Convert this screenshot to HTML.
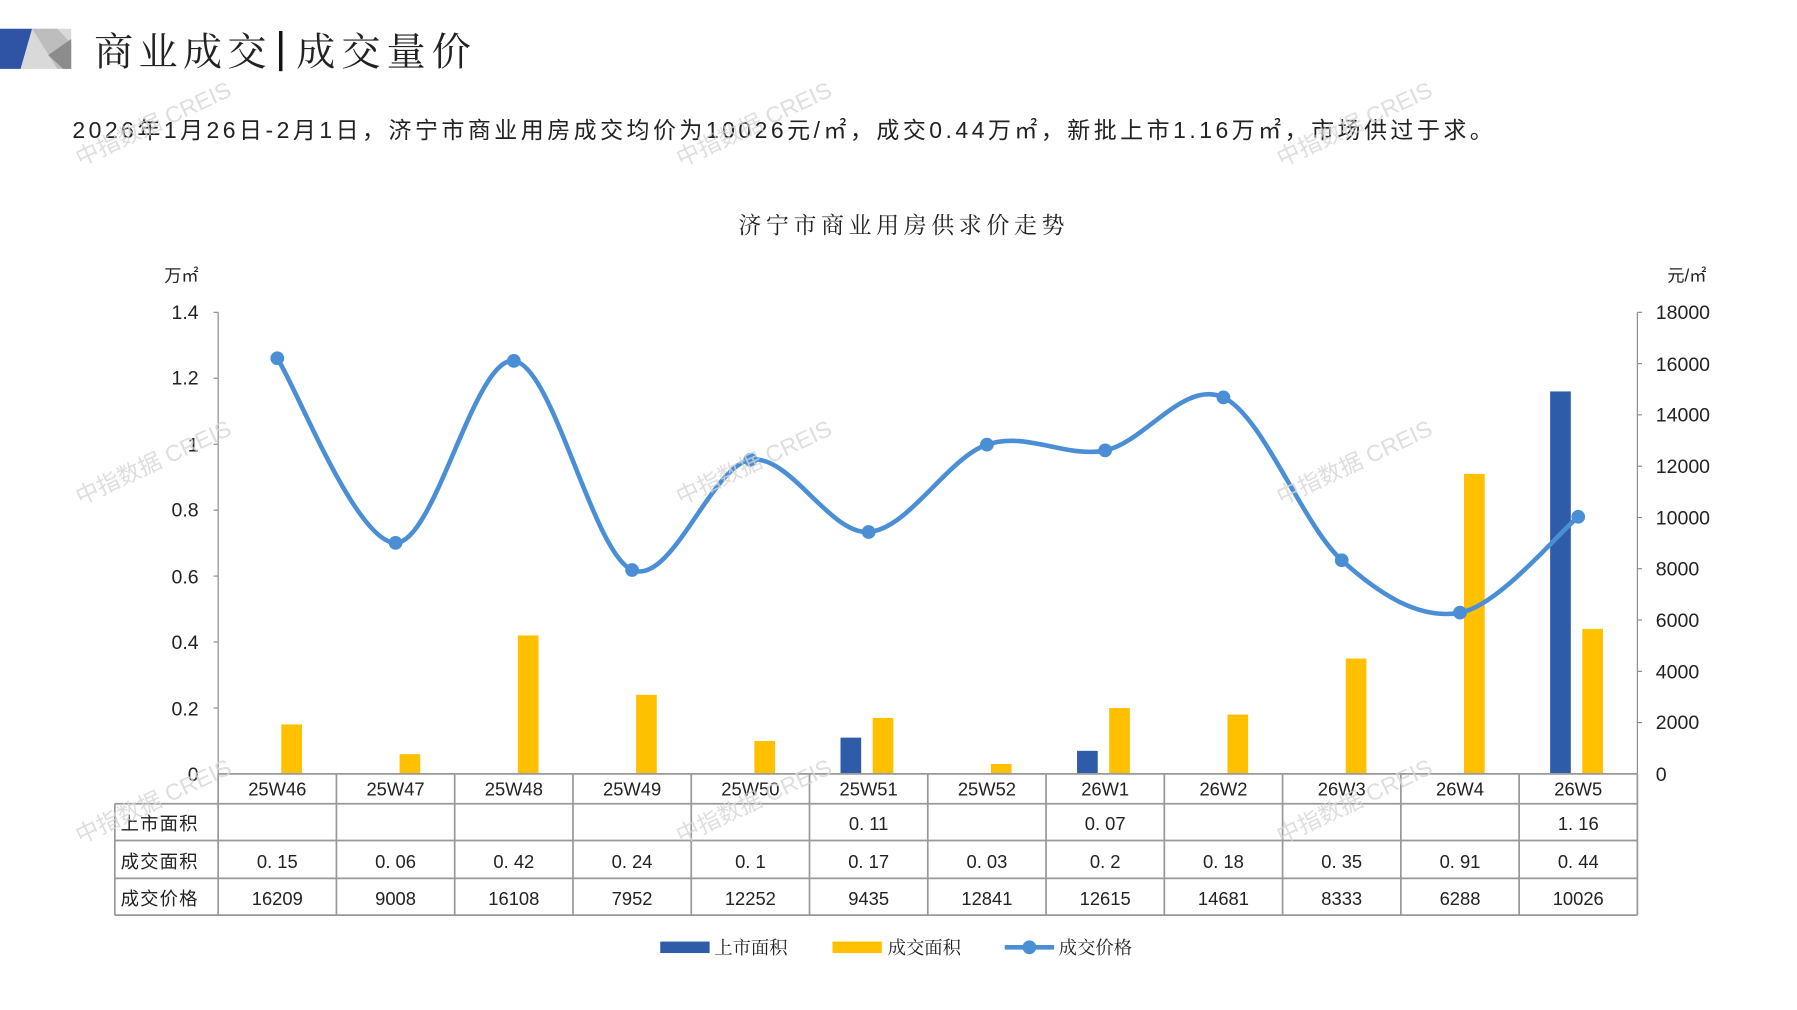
<!DOCTYPE html>
<html><head><meta charset="utf-8">
<style>
html,body{margin:0;padding:0;background:#fff;}
svg{display:block;}
text{font-family:"Liberation Sans","Noto Sans CJK SC",sans-serif;fill:#222;}
.cj{font-family:"Noto Serif CJK SC","Liberation Serif",serif;}
</style></head>
<body>
<svg id="s" width="1797" height="1010" viewBox="0 0 1565 879.6" xmlns="http://www.w3.org/2000/svg">
<polygon points="0,25 28,25 18,60 0,60" fill="#2f54a6"/>
<polygon points="28,25 62,25 62,60 18,60" fill="#d9d9d9"/>
<polygon points="28,25 50,25 62,38 62,60 50,60" fill="#bdbdbd"/>
<polygon points="42,48 62,34 62,60 55,60" fill="#8c8c8c"/>
<text x="82" y="57" font-size="34" class="cj" fill="#111" textLength="150" lengthAdjust="spacing">商业成交</text>
<rect x="243" y="27" width="3" height="35" fill="#111"/>
<text x="258" y="57" font-size="34" class="cj" fill="#111" textLength="152" lengthAdjust="spacing">成交量价</text>
<text x="63" y="120" font-size="20" fill="#333" textLength="1237" lengthAdjust="spacing">2026年1月26日-2月1日，济宁市商业用房成交均价为10026元/㎡，成交0.44万㎡，新批上市1.16万㎡，市场供过于求。</text>
<text x="643" y="203" font-size="20" fill="#333" class="cj" textLength="284" lengthAdjust="spacing">济宁市商业用房供求价走势</text>
<text x="143" y="245" font-size="15" fill="#333">万㎡</text>
<text x="1452" y="245" font-size="15" fill="#333">元/㎡</text>

<g stroke="#888" stroke-width="1">
<line x1="190" y1="272" x2="190" y2="674"/>
<line x1="1426" y1="272" x2="1426" y2="674"/>
<line x1="186" y1="272" x2="190" y2="272"/><line x1="186" y1="329.4" x2="190" y2="329.4"/><line x1="186" y1="386.9" x2="190" y2="386.9"/><line x1="186" y1="444.3" x2="190" y2="444.3"/><line x1="186" y1="501.7" x2="190" y2="501.7"/><line x1="186" y1="559.1" x2="190" y2="559.1"/><line x1="186" y1="616.6" x2="190" y2="616.6"/>
<line x1="1426" y1="272" x2="1430" y2="272"/><line x1="1426" y1="316.7" x2="1430" y2="316.7"/><line x1="1426" y1="361.3" x2="1430" y2="361.3"/><line x1="1426" y1="406" x2="1430" y2="406"/><line x1="1426" y1="450.7" x2="1430" y2="450.7"/><line x1="1426" y1="495.3" x2="1430" y2="495.3"/><line x1="1426" y1="540" x2="1430" y2="540"/><line x1="1426" y1="584.7" x2="1430" y2="584.7"/><line x1="1426" y1="629.3" x2="1430" y2="629.3"/>
</g>
<g font-size="17" text-anchor="end">
<text x="173" y="278">1.4</text><text x="173" y="335">1.2</text><text x="173" y="393">1</text><text x="173" y="450">0.8</text><text x="173" y="508">0.6</text><text x="173" y="565">0.4</text><text x="173" y="623">0.2</text><text x="173" y="680">0</text>
</g>
<g font-size="17">
<text x="1442" y="278">18000</text><text x="1442" y="323">16000</text><text x="1442" y="367">14000</text><text x="1442" y="412">12000</text><text x="1442" y="457">10000</text><text x="1442" y="501">8000</text><text x="1442" y="546">6000</text><text x="1442" y="591">4000</text><text x="1442" y="635">2000</text><text x="1442" y="680">0</text>
</g>

<g fill="#ffc000">
<rect x="245" y="630.9" width="18" height="43.1"/>
<rect x="348" y="656.8" width="18" height="17.2"/>
<rect x="451" y="553.4" width="18" height="120.6"/>
<rect x="554" y="605.1" width="18" height="68.9"/>
<rect x="657" y="645.3" width="18" height="28.7"/>
<rect x="760" y="625.2" width="18" height="48.8"/>
<rect x="863" y="665.4" width="18" height="8.6"/>
<rect x="966" y="616.6" width="18" height="57.4"/>
<rect x="1069" y="622.3" width="18" height="51.7"/>
<rect x="1172" y="573.5" width="18" height="100.5"/>
<rect x="1275" y="412.7" width="18" height="261.3"/>
<rect x="1378" y="547.7" width="18" height="126.3"/>
</g>
<g fill="#2e5ca8">
<rect x="732" y="642.4" width="18" height="31.6"/>
<rect x="938" y="653.9" width="18" height="20.1"/>
<rect x="1350" y="340.9" width="18" height="333.1"/>
</g>

<path id="ln" d="" fill="none" stroke="#4a8fd6" stroke-width="4"/>
<g id="mk" fill="#4a8fd6"></g>

<g stroke="#999" stroke-width="1.5" fill="none">
<line x1="190" y1="674" x2="1426" y2="674"/>
<line x1="100" y1="700" x2="1426" y2="700"/>
<line x1="100" y1="732" x2="1426" y2="732"/>
<line x1="100" y1="765" x2="1426" y2="765"/>
<line x1="100" y1="797" x2="1426" y2="797"/>
<line x1="100" y1="700" x2="100" y2="797"/>
<line x1="190" y1="674" x2="190" y2="797"/>
<line x1="293" y1="674" x2="293" y2="797"/><line x1="396" y1="674" x2="396" y2="797"/><line x1="499" y1="674" x2="499" y2="797"/><line x1="602" y1="674" x2="602" y2="797"/><line x1="705" y1="674" x2="705" y2="797"/><line x1="808" y1="674" x2="808" y2="797"/><line x1="911" y1="674" x2="911" y2="797"/><line x1="1014" y1="674" x2="1014" y2="797"/><line x1="1117" y1="674" x2="1117" y2="797"/><line x1="1220" y1="674" x2="1220" y2="797"/><line x1="1323" y1="674" x2="1323" y2="797"/><line x1="1426" y1="674" x2="1426" y2="797"/>
</g>
<g font-size="16" text-anchor="middle">
<text x="241.5" y="693">25W46</text><text x="344.5" y="693">25W47</text><text x="447.5" y="693">25W48</text><text x="550.5" y="693">25W49</text><text x="653.5" y="693">25W50</text><text x="756.5" y="693">25W51</text><text x="859.5" y="693">25W52</text><text x="962.5" y="693">26W1</text><text x="1065.5" y="693">26W2</text><text x="1168.5" y="693">26W3</text><text x="1271.5" y="693">26W4</text><text x="1374.5" y="693">26W5</text>
<text x="756.5" y="723">0. 11</text><text x="962.5" y="723">0. 07</text><text x="1374.5" y="723">1. 16</text>
<text x="241.5" y="756">0. 15</text><text x="344.5" y="756">0. 06</text><text x="447.5" y="756">0. 42</text><text x="550.5" y="756">0. 24</text><text x="653.5" y="756">0. 1</text><text x="756.5" y="756">0. 17</text><text x="859.5" y="756">0. 03</text><text x="962.5" y="756">0. 2</text><text x="1065.5" y="756">0. 18</text><text x="1168.5" y="756">0. 35</text><text x="1271.5" y="756">0. 91</text><text x="1374.5" y="756">0. 44</text>
<text x="241.5" y="788">16209</text><text x="344.5" y="788">9008</text><text x="447.5" y="788">16108</text><text x="550.5" y="788">7952</text><text x="653.5" y="788">12252</text><text x="756.5" y="788">9435</text><text x="859.5" y="788">12841</text><text x="962.5" y="788">12615</text><text x="1065.5" y="788">14681</text><text x="1168.5" y="788">8333</text><text x="1271.5" y="788">6288</text><text x="1374.5" y="788">10026</text>
</g>
<g font-size="16" class="cj" letter-spacing="1">
<text x="105" y="723">上市面积</text><text x="105" y="756">成交面积</text><text x="105" y="788">成交价格</text>
</g>

<rect x="575" y="820" width="43" height="10" fill="#2e5ca8"/>
<text x="622" y="831" font-size="16" class="cj">上市面积</text>
<rect x="725" y="820" width="43" height="10" fill="#ffc000"/>
<text x="773" y="831" font-size="16" class="cj">成交面积</text>
<line x1="875" y1="825" x2="918" y2="825" stroke="#4a8fd6" stroke-width="4"/>
<circle cx="896.5" cy="825" r="6" fill="#4a8fd6"/>
<text x="922" y="831" font-size="16" class="cj">成交价格</text>

<g font-size="20" opacity="0.8">
<text x="70" y="145" transform="rotate(-25 70 145)" style="fill:#d6d6d6">中指数据 CREIS</text>
<text x="593" y="145" transform="rotate(-25 593 145)" style="fill:#d6d6d6">中指数据 CREIS</text>
<text x="1116" y="145" transform="rotate(-25 1116 145)" style="fill:#d6d6d6">中指数据 CREIS</text>
<text x="70" y="440" transform="rotate(-25 70 440)" style="fill:#d6d6d6">中指数据 CREIS</text>
<text x="593" y="440" transform="rotate(-25 593 440)" style="fill:#d6d6d6">中指数据 CREIS</text>
<text x="1116" y="440" transform="rotate(-25 1116 440)" style="fill:#d6d6d6">中指数据 CREIS</text>
<text x="70" y="735" transform="rotate(-25 70 735)" style="fill:#d6d6d6">中指数据 CREIS</text>
<text x="593" y="735" transform="rotate(-25 593 735)" style="fill:#d6d6d6">中指数据 CREIS</text>
<text x="1116" y="735" transform="rotate(-25 1116 735)" style="fill:#d6d6d6">中指数据 CREIS</text>
</g>
</svg>
<script>
var p=[16209,9008,16108,7952,12252,9435,12841,12615,14681,8333,6288,10026];
var pts=p.map(function(v,i){return [241.5+103*i,674-v/18000*402];});
var d="M"+pts[0][0]+","+pts[0][1];
for(var i=0;i<pts.length-1;i++){
 var p0=pts[i-1]||pts[i],p1=pts[i],p2=pts[i+1],p3=pts[i+2]||p2;
 var t=1/6;
 var c1=[p1[0]+(p2[0]-p0[0])*t,p1[1]+(p2[1]-p0[1])*t];
 var c2=[p2[0]-(p3[0]-p1[0])*t,p2[1]-(p3[1]-p1[1])*t];
 d+=" C"+c1[0].toFixed(1)+","+c1[1].toFixed(1)+" "+c2[0].toFixed(1)+","+c2[1].toFixed(1)+" "+p2[0].toFixed(1)+","+p2[1].toFixed(1);
}
document.getElementById("ln").setAttribute("d",d);
var g=document.getElementById("mk");
pts.forEach(function(q){var c=document.createElementNS("http://www.w3.org/2000/svg","circle");c.setAttribute("cx",q[0]);c.setAttribute("cy",q[1]);c.setAttribute("r",6);g.appendChild(c);});
</script>
</body></html>
